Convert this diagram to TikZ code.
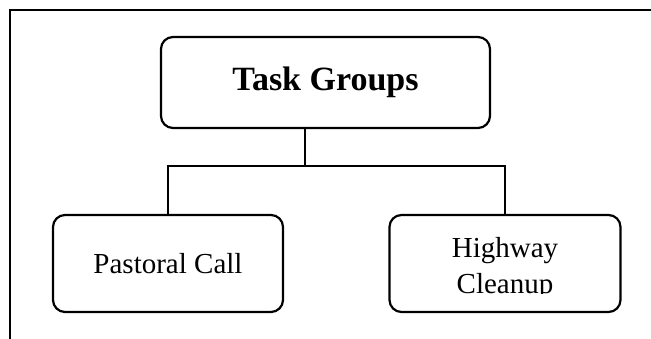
\documentclass[tikz,border=0pt]{standalone}
\usepackage{fontspec}
\setmainfont{Liberation Serif}
\usetikzlibrary{positioning}
\tikzset{
	box/.style={draw, rounded corners=12pt, line width=2.2pt, inner sep=0pt, align=center},
	link/.style={line width=2pt},
}
\def\childfont{\fontsize{29}{36}\selectfont}

\begin{document}
\begin{tikzpicture}[x=1pt,y=1pt]
	\useasboundingbox (0,0) rectangle (651,339);
	
	% frame
	\draw[line width=2pt] (651,329) -- (10,329) -- (10,0);
	
	\node[box, minimum width=329pt, minimum height=91pt,
		font=\fontsize{34}{40}\selectfont\bfseries] (task) at (325.5,256.5) {Task Groups};
	
	\node[box, minimum width=230pt, minimum height=97pt, font=\childfont] (pastoral) at (168,75.5) {Pastoral Call};
	\node[box, minimum width=231pt, minimum height=97pt] (highway) at (505,75.5) {};
	
	% text of the right box is cut off at its lower edge
	\begin{scope}
		\clip (390,45.5) rectangle (620,120);
		\node[font=\childfont, align=center] (highwaytext) at (505,70) {Highway\\Cleanup};
	\end{scope}
	
	% connectors
	\coordinate (bus) at (305,173);
	\draw[link] (task.south -| bus) -- (bus);
	\draw[link] (pastoral.north) |- (bus) -| (highway.north);
	
\end{tikzpicture}
\end{document}
